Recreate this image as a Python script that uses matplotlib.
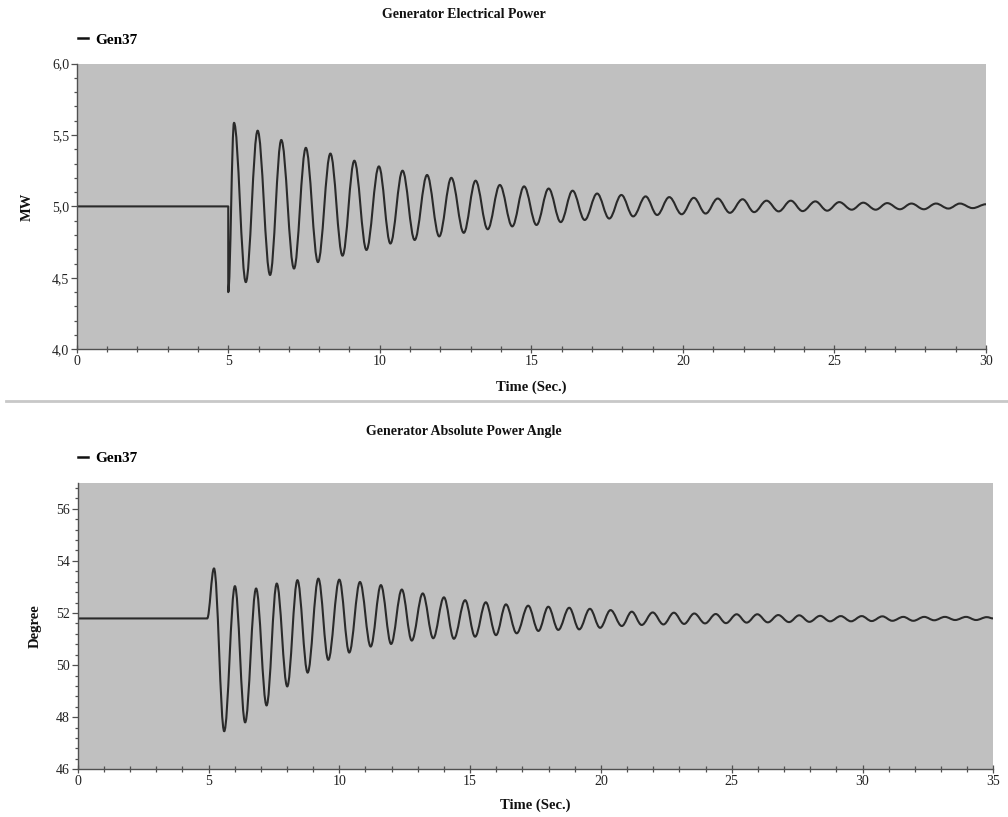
import matplotlib
matplotlib.use("Agg")
import matplotlib.pyplot as plt
from matplotlib.path import Path
from matplotlib.patches import PathPatch
from matplotlib.lines import Line2D
from matplotlib.ticker import MultipleLocator, FuncFormatter

# ---------------- data (extrema) ----------------
power_title = "Generator Electrical Power"
angle_title = "Generator Absolute Power Angle"
series_name = "Gen37"
power_ylabel = "MW"
angle_ylabel = "Degree"
xlabel = "Time (Sec.)"

power_t = [0.0, 5.0, 5.0, 5.19, 5.58, 5.97, 6.38, 6.75, 7.17, 7.56, 7.96, 8.37, 8.77,
           9.16, 9.56, 9.97, 10.35, 10.75, 11.15, 11.56, 11.96, 12.36, 12.77, 13.16,
           13.56, 13.96, 14.37, 14.76, 15.17, 15.57, 15.97, 16.36, 16.76, 17.17, 17.57,
           17.97, 18.36, 18.77, 19.15, 19.55, 19.96, 20.36, 20.75, 21.15, 21.55, 21.97,
           22.35, 22.76, 23.16, 23.56, 23.95, 24.37, 24.76, 25.16, 25.57, 25.95, 26.36,
           26.74, 27.16, 27.54, 27.95, 28.35, 28.76, 29.14, 29.56, 30.0]
power_v = [5.0, 5.0, 4.40, 5.585, 4.47, 5.53, 4.52, 5.465, 4.565, 5.41, 4.61, 5.37, 4.655,
           5.32, 4.695, 5.28, 4.74, 5.25, 4.765, 5.22, 4.79, 5.20, 4.815, 5.18,
           4.84, 5.15, 4.86, 5.14, 4.87, 5.125, 4.89, 5.11, 4.905, 5.09, 4.915,
           5.08, 4.93, 5.07, 4.94, 5.065, 4.945, 5.06, 4.95, 5.055, 4.955, 5.05,
           4.96, 5.04, 4.965, 5.04, 4.967, 5.035, 4.97, 5.03, 4.977, 5.026, 4.977,
           5.023, 4.98, 5.02, 4.98, 5.02, 4.985, 5.02, 4.988, 5.015]

angle_t = [0.0, 4.95, 5.21, 5.60, 6.01, 6.40, 6.82, 7.22, 7.61, 8.01, 8.40, 8.79, 9.20,
           9.58, 10.00, 10.38, 10.79, 11.20, 11.59, 11.98, 12.39, 12.77, 13.19, 13.59,
           14.00, 14.38, 14.81, 15.19, 15.60, 15.99, 16.37, 16.78, 17.22, 17.61, 17.99,
           18.37, 18.79, 19.17, 19.58, 19.97, 20.37, 20.80, 21.18, 21.56, 21.98, 22.39,
           22.79, 23.18, 23.57, 23.98, 24.39, 24.78, 25.19, 25.57, 25.98, 26.38, 26.78,
           27.19, 27.58, 27.97, 28.38, 28.76, 29.17, 29.56, 29.97, 30.35, 30.76, 31.14,
           31.56, 31.94, 32.36, 32.74, 33.15, 33.54, 33.96, 34.34, 34.75, 35.0]
angle_v = [51.79, 51.79, 53.71, 47.46, 53.03, 47.80, 52.94, 48.45, 53.13, 49.18, 53.26,
           49.71, 53.32, 50.20, 53.28, 50.48, 53.19, 50.71, 53.07, 50.81, 52.90, 50.94,
           52.75, 51.03, 52.60, 51.01, 52.49, 51.09, 52.41, 51.15, 52.33, 51.22, 52.28,
           51.31, 52.24, 51.35, 52.20, 51.37, 52.16, 51.43, 52.11, 51.50, 52.05, 51.54,
           52.02, 51.56, 52.01, 51.58, 51.98, 51.60, 51.96, 51.61, 51.95, 51.63, 51.95,
           51.64, 51.92, 51.65, 51.91, 51.66, 51.89, 51.68, 51.88, 51.68, 51.88, 51.69,
           51.87, 51.70, 51.85, 51.70, 51.85, 51.72, 51.85, 51.73, 51.85, 51.73, 51.84,
           51.79]

power_xticks = [0, 5, 10, 15, 20, 25, 30]
power_yticks = [4.0, 4.5, 5.0, 5.5, 6.0]
angle_xticks = [0, 5, 10, 15, 20, 25, 30, 35]
angle_yticks = [46, 48, 50, 52, 54, 56]

# ---------------- style ----------------
FONT = "Liberation Serif"
plt.rcParams["font.family"] = FONT
BG = "#c0c0c0"
LINE = "#2a2a2a"
SPINE = "#505050"
TXT = "#222222"
W, H = 1008, 817

fig = plt.figure(figsize=(W / 100, H / 100), dpi=100)


def smooth_path(ts, vs):
    """Smooth curve through the read extrema (horizontal tangent at each extremum)."""
    verts = [(ts[0], vs[0])]
    codes = [Path.MOVETO]
    for (t0, v0), (t1, v1) in zip(zip(ts[:-1], vs[:-1]), zip(ts[1:], vs[1:])):
        d = 0.364 * (t1 - t0)
        verts += [(t0 + d, v0), (t1 - d, v1), (t1, v1)]
        codes += [Path.CURVE4] * 3
    return Path(verts, codes)


def style_axes(ax, xlim, ylim, xticks, yticks, xminor, yminor, fmt):
    ax.set_facecolor(BG)
    ax.set_xlim(*xlim)
    ax.set_ylim(*ylim)
    ax.set_xticks(xticks)
    ax.set_yticks(yticks)
    ax.xaxis.set_minor_locator(MultipleLocator(xminor))
    ax.yaxis.set_minor_locator(MultipleLocator(yminor))
    ax.yaxis.set_major_formatter(FuncFormatter(fmt))
    for s in ("top", "right"):
        ax.spines[s].set_visible(False)
    for s in ("left", "bottom"):
        ax.spines[s].set_color(SPINE)
        ax.spines[s].set_linewidth(1.0)
    ax.tick_params(axis="x", which="major", direction="inout", length=6, width=0.9,
                   color=SPINE, labelsize=10, labelcolor=TXT, pad=1)
    ax.tick_params(axis="x", which="minor", direction="inout", length=4, width=0.9,
                   color=SPINE)
    ax.tick_params(axis="y", which="major", direction="out", length=4, width=0.9,
                   color=SPINE, labelsize=10, labelcolor=TXT, pad=1.5)
    ax.tick_params(axis="y", which="minor", direction="out", length=2.5, width=0.9,
                   color=SPINE)
    for lab in ax.get_xticklabels() + ax.get_yticklabels():
        lab.set_fontfamily(FONT)


def fy(py):
    return 1 - py / H


def fx(px):
    return px / W


# ---------------- top panel ----------------
ax1 = fig.add_axes([fx(76.7), fy(349.3), (986 - 76.7) / W, (349.3 - 63.5) / H])
style_axes(ax1, (0, 30), (4.0, 6.0), power_xticks, power_yticks, 1, 0.1,
           lambda v, p: f"{v:.1f}".replace(".", ","))
ax1.add_patch(PathPatch(smooth_path(power_t, power_v), fill=False, edgecolor=LINE,
                        lw=1.5, joinstyle="round", capstyle="round"))

# ---------------- bottom panel ----------------
ax2 = fig.add_axes([fx(77.7), fy(769.3), (993.3 - 77.7) / W, (769.3 - 482.7) / H])
style_axes(ax2, (0, 35), (46, 57), angle_xticks, angle_yticks, 1, 0.4,
           lambda v, p: f"{v:.0f}")
ax2.add_patch(PathPatch(smooth_path(angle_t, angle_v), fill=False, edgecolor=LINE,
                        lw=1.5, joinstyle="round", capstyle="round"))

# ---------------- texts ----------------
bold = dict(fontfamily=FONT, fontweight="bold", color="#111111")
for ax, title, ty, ly, ylab, ylx, xly in (
        (ax1, power_title, 14.5, 40, power_ylabel, 27.5, 387),
        (ax2, angle_title, 432, 458, angle_ylabel, 35.5, 805)):
    pos = ax.get_position()
    cx = (pos.x0 + pos.x1) / 2
    cy = (pos.y0 + pos.y1) / 2
    fig.text(fx(464), fy(ty), title, ha="center", va="center", fontsize=10, **bold)
    fig.text(fx(ylx), cy, ylab, ha="center", va="center", rotation=90, fontsize=10.5, **bold)
    fig.text(cx, fy(xly), xlabel, ha="center", va="center", fontsize=10.5, **bold)
    handle = Line2D([], [], color="#111111", lw=1.8)
    ax.legend([handle], [series_name], loc="center left",
              bbox_to_anchor=(fx(78), fy(ly)), bbox_transform=fig.transFigure,
              frameon=False, handlelength=0.65, handletextpad=0.45, borderpad=0,
              borderaxespad=0, prop=dict(family=FONT, weight="bold", size=11))

# separator between panels
fig.add_artist(Line2D([fx(6), 1.0], [fy(401), fy(401)], color="#c8c8c8", lw=2))

fig.savefig("out.png", dpi=100, facecolor="white")
